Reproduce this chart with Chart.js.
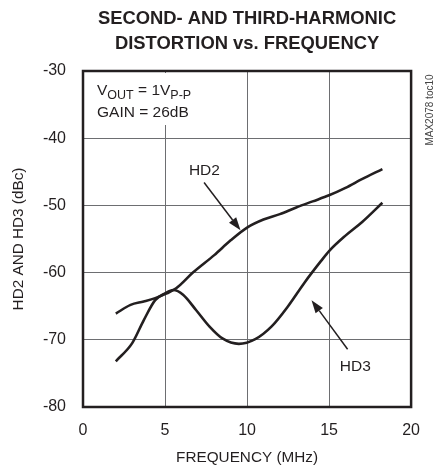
<!DOCTYPE html>
<html>
<head>
<meta charset="utf-8">
<script src="https://cdn.jsdelivr.net/npm/chart.js@4.4.1/dist/chart.umd.min.js"></script>
<style>
  html, body { margin: 0; padding: 0; background: #fff; }
  #wrap { width: 434px; height: 470px; position: relative; }
</style>
</head>
<body>
<div id="wrap"><canvas id="chart"></canvas></div>
<script>
(function() {
  // Data (frequency in MHz, distortion in dBc)
  const hd2Freq = [2, 2.9, 3.7, 4.4, 5.1, 5.7, 6.7, 8, 9, 10, 11, 12, 13, 14, 15, 16, 17, 18.25];
  const hd2Vals = [-66.1, -64.8, -64.3, -63.8, -63.1, -62.3, -60, -57.4, -55.2, -53.3, -52.1, -51.3, -50.3, -49.4, -48.5, -47.4, -46.1, -44.6];

  const hd3Freq = [2, 3, 3.7, 4.4, 5, 5.5, 6.1, 6.9, 7.7, 8.5, 9.5, 10.5, 11.5, 12.5, 13.5, 14.5, 15, 16, 17, 18.25];
  const hd3Vals = [-73.2, -70.5, -67.1, -64.1, -63.1, -62.6, -63.3, -65.6, -68, -69.8, -70.6, -69.9, -68, -65, -61.5, -58.3, -56.8, -54.5, -52.5, -49.6];

  const xTicks = [0, 5, 10, 15, 20];
  const yTicks = [-30, -40, -50, -60, -70, -80];

  // label anchors and arrows, in data units
  const hd2Label = { text: 'HD2', x: 7.4, y: -44.8, from: [7.38, -46.6], to: [9.6, -53.7] };
  const hd3Label = { text: 'HD3', x: 16.6, y: -74.0, from: [16.13, -71.4], to: [13.93, -64.1] };

  const ink = '#231f20';
  const sans = '"Liberation Sans", Arial, Helvetica, sans-serif';

  function toPoints(xs, ys) {
    return xs.map((x, i) => ({ x: x, y: ys[i] }));
  }

  function arrow(ctx, x1, y1, x2, y2) {
    const ang = Math.atan2(y2 - y1, x2 - x1);
    const len = 13, half = 4.5;
    const bx = x2 - len * Math.cos(ang), by = y2 - len * Math.sin(ang);
    ctx.beginPath();
    ctx.moveTo(x1, y1);
    ctx.lineTo(bx, by);
    ctx.stroke();
    ctx.beginPath();
    ctx.moveTo(x2, y2);
    ctx.lineTo(bx + half * Math.sin(ang), by - half * Math.cos(ang));
    ctx.lineTo(bx - half * Math.sin(ang), by + half * Math.cos(ang));
    ctx.closePath();
    ctx.fill();
  }

  const decorations = {
    id: 'decorations',
    afterDraw(chart) {
      const ctx = chart.ctx;
      const xs = chart.scales.x, ys = chart.scales.y;
      const area = chart.chartArea;
      ctx.save();

      // white box behind the condition text (it cuts the 5 MHz grid line)
      ctx.fillStyle = '#fff';
      ctx.fillRect(area.left + 2, area.top + 2, 115, 52);

      ctx.fillStyle = ink;
      ctx.textBaseline = 'alphabetic';
      ctx.textAlign = 'left';
      let x = 97;
      const parts = [['V', 15.5, 0], ['OUT', 12.5, 3.5], [' = 1V', 15.5, 0], ['P-P', 12.5, 3.5]];
      parts.forEach(p => {
        ctx.font = p[1] + 'px ' + sans;
        ctx.fillText(p[0], x, 95 + p[2]);
        x += ctx.measureText(p[0]).width;
      });
      ctx.font = '15.5px ' + sans;
      ctx.fillText('GAIN = 26dB', 97, 117);

      // curve labels and arrows
      ctx.textAlign = 'center';
      ctx.textBaseline = 'middle';
      ctx.strokeStyle = ink;
      ctx.lineWidth = 1.5;
      [hd2Label, hd3Label].forEach(l => {
        ctx.fillText(l.text, xs.getPixelForValue(l.x), ys.getPixelForValue(l.y));
        arrow(ctx,
          xs.getPixelForValue(l.from[0]), ys.getPixelForValue(l.from[1]),
          xs.getPixelForValue(l.to[0]), ys.getPixelForValue(l.to[1]));
      });

      // plot frame
      ctx.lineWidth = 2.5;
      ctx.strokeRect(area.left, area.top, area.right - area.left, area.bottom - area.top);

      // figure code on the right edge
      ctx.translate(430, 110);
      ctx.rotate(-Math.PI / 2);
      ctx.font = '10px ' + sans;
      ctx.fillStyle = '#444';
      ctx.fillText('MAX2078 toc10', 0, 0);
      ctx.restore();
    }
  };

  new Chart(document.getElementById('chart').getContext('2d'), {
    type: 'scatter',
    data: {
      datasets: [
        { label: 'HD2', data: toPoints(hd2Freq, hd2Vals) },
        { label: 'HD3', data: toPoints(hd3Freq, hd3Vals) }
      ]
    },
    options: {
      responsive: true,
      maintainAspectRatio: false,
      animation: false,
      showLine: true,
      elements: {
        point: { radius: 0, hoverRadius: 0 },
        line: { borderColor: ink, borderWidth: 2.6, tension: 0, cubicInterpolationMode: 'monotone', fill: false }
      },
      layout: { padding: { right: 14 } },
      plugins: {
        legend: { display: false },
        tooltip: { enabled: false },
        title: {
          display: true,
          fullSize: false,
          text: ['SECOND- AND THIRD-HARMONIC', 'DISTORTION vs. FREQUENCY'],
          color: ink,
          font: { family: sans, size: 18.4, weight: 'bold', lineHeight: 25 / 18.4 },
          padding: { top: 6.5, bottom: 14.5 }
        }
      },
      scales: {
        x: {
          type: 'linear',
          min: 0, max: 20,
          afterFit: s => { s.height = 63; },
          afterBuildTicks: s => { s.ticks = xTicks.map(v => ({ value: v })); },
          grid: { color: '#6d6e71', lineWidth: 1, drawTicks: false },
          border: { display: false },
          ticks: { color: ink, padding: 14, font: { family: sans, size: 16 } },
          title: { display: true, text: 'FREQUENCY (MHz)', color: ink, font: { family: sans, size: 15.3, lineHeight: 1.2 }, padding: { top: 0, bottom: 3 } }
        },
        y: {
          type: 'linear',
          min: -80, max: -30,
          afterFit: s => { s.width = 83; },
          afterBuildTicks: s => { s.ticks = yTicks.map(v => ({ value: v })); },
          grid: { color: '#6d6e71', lineWidth: 1, drawTicks: false },
          border: { display: false },
          ticks: { color: ink, padding: 17, font: { family: sans, size: 16 } },
          title: { display: true, text: 'HD2 AND HD3 (dBc)', color: ink, font: { family: sans, size: 15.3, lineHeight: 1.2 }, padding: { top: 9.5, bottom: 0 } }
        }
      }
    },
    plugins: [decorations]
  });
})();
</script>
</body>
</html>
